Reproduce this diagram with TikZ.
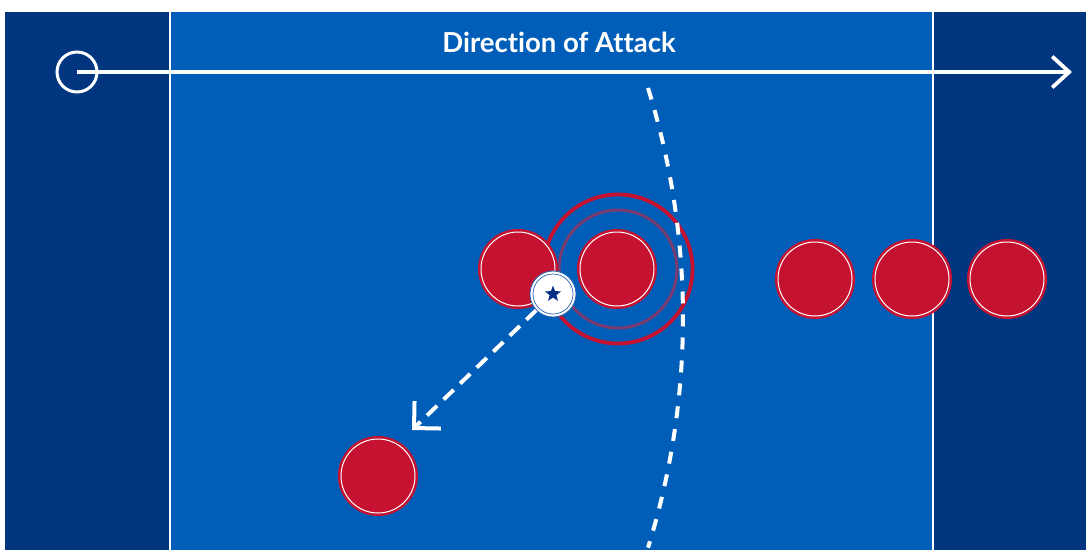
\documentclass[tikz,border=0pt]{standalone}
\usepackage{fontspec}
\setmainfont{Lato}[Ligatures=NoCommon]
\usetikzlibrary{arrows.meta,shapes.geometric}
\definecolor{navy}{RGB}{0,54,128}
\definecolor{midblue}{RGB}{0,94,184}
\definecolor{pred}{RGB}{196,18,48}
\definecolor{ringpurple}{RGB}{122,60,112}
\definecolor{ballblue}{RGB}{40,100,180}
\definecolor{stardark}{RGB}{0,48,135}
\tikzset{
  player/.style={circle, fill=pred, minimum size=80pt, inner sep=0pt,
    path picture={\draw[white, line width=1pt] (path picture bounding box.center) circle[radius=37pt];}},
  ballnode/.style={circle, fill=white, draw=ballblue, line width=0.8pt, minimum size=46pt, inner sep=0pt,
    path picture={\draw[ballblue, line width=0.7pt] (path picture bounding box.center) circle[radius=20pt];}},
  starnode/.style={star, star points=5, star point ratio=2.4, fill=stardark, inner sep=0pt, minimum size=17pt},
  fieldline/.style={white, line width=1.3pt},
  dashline/.style={white, line width=4pt},
}
\begin{document}
\begin{tikzpicture}[x=1pt,y=-1pt]
\useasboundingbox (0,0) rectangle (1086,550);
% background
\fill[white] (0,0) rectangle (1086,550);
\fill[navy] (5,12) rectangle (1086,550);
\fill[midblue] (170,12) rectangle (933,550);
\draw[fieldline] (170,12) -- (170,550);
\draw[fieldline] (933,12) -- (933,550);
% title and direction arrow
\node[font=\bfseries\fontsize{27.5}{31}\selectfont, text=white, anchor=base] (title) at (559,52) {Direction of Attack};
\node[circle, draw=white, line width=3pt, minimum size=40pt, inner sep=0pt] (origin) at (77,72) {};
\coordinate (dirend) at (1072,72);
\draw[white, line width=3.8pt, -{Straight Barb[length=17pt,width=31pt]}] (origin.center) -- (dirend);
% rings
\coordinate (ringc) at (618,269);
\draw[pred, line width=3.8pt] (ringc) circle[radius=74.5pt];
\draw[ringpurple, line width=3pt] (ringc) circle[radius=59pt];
% players
\node[player] (p1) at (518,269) {};
\node[player] (p2) at (617,269) {};
\node[player] (p3) at (815,279) {};
\node[player] (p4) at (912,279) {};
\node[player] (p5) at (1007,279) {};
\node[player] (p6) at (378,476) {};
% dashed arc
\draw[dashline, dash pattern=on 12pt off 11pt] (648,88) arc[start angle=-17.3, end angle=17.3, radius=773];
% pass
\coordinate (ballc) at (553,294);
\coordinate (passend) at (412,430);
\draw[dashline, dash pattern=on 14pt off 9pt, -{Straight Barb[length=19pt,width=38pt]}] (ballc) -- (passend);
\node[ballnode] (ball) at (ballc) {};
\node[starnode] (star) at (ball.center) {};
\end{tikzpicture}
\end{document}
